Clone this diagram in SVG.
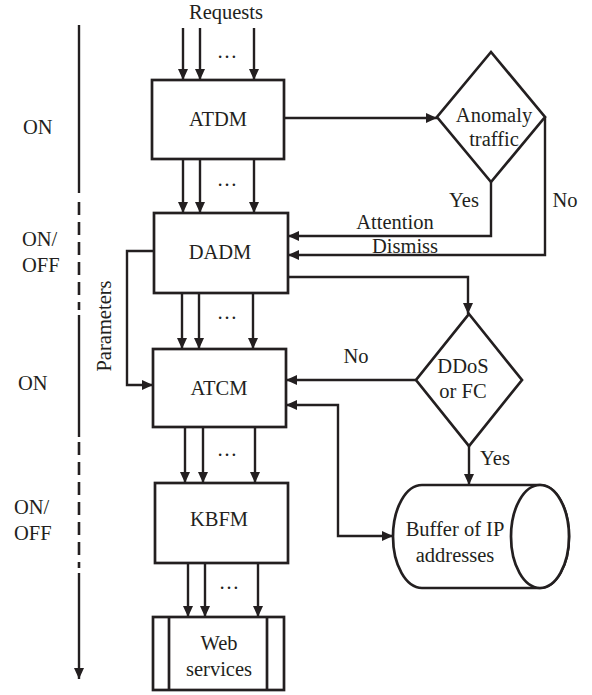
<svg xmlns="http://www.w3.org/2000/svg" width="592" height="695" viewBox="0 0 592 695" font-family="'Liberation Serif', 'DejaVu Serif', serif">
<style>
text{font-family:'Liberation Serif','DejaVu Serif',serif;font-size:20.5px;fill:#231f20}
.m{text-anchor:middle}
.box{fill:#fff;stroke:#231f20;stroke-width:2.7}
.ln{fill:none;stroke:#231f20;stroke-width:2.4}
.ar{fill:none;stroke:#231f20;stroke-width:2.4;marker-end:url(#ah)}
.dash{fill:none;stroke:#231f20;stroke-width:2.6;stroke-dasharray:13 7}
</style>
<defs>
<marker id="ah" markerUnits="userSpaceOnUse" markerWidth="11" markerHeight="10" refX="11" refY="5" orient="auto-start-reverse">
<path d="M0,0 L11,5 L0,10 z" fill="#231f20"/>
</marker>
</defs>
<rect width="592" height="695" fill="#fff"/>

<g id="timeline">
<line class="ln" x1="79" y1="25" x2="79" y2="193"/>
<line class="dash" x1="79" y1="202" x2="79" y2="310"/>
<line class="ln" x1="79" y1="315" x2="79" y2="437"/>
<line class="dash" x1="79" y1="442" x2="79" y2="568"/>
<line class="ar" x1="79" y1="573" x2="79" y2="679"/>
<text x="23" y="134">ON</text>
<text x="22" y="246">ON/</text>
<text x="22" y="272">OFF</text>
<text x="18" y="390">ON</text>
<text x="14" y="514">ON/</text>
<text x="14" y="540">OFF</text>
</g>

<g id="connectors">
<text class="m" x="226" y="19">Requests</text>
<line class="ar" x1="183" y1="28" x2="183" y2="80"/>
<line class="ar" x1="200" y1="28" x2="200" y2="80"/>
<line class="ar" x1="254" y1="28" x2="254" y2="80"/>
<text class="m" x="227" y="58">…</text>

<line class="ar" x1="183" y1="159" x2="183" y2="213"/>
<line class="ar" x1="200" y1="159" x2="200" y2="213"/>
<line class="ar" x1="254" y1="159" x2="254" y2="213"/>
<text class="m" x="227" y="186">…</text>

<line class="ar" x1="182" y1="293" x2="182" y2="349"/>
<line class="ar" x1="199" y1="293" x2="199" y2="349"/>
<line class="ar" x1="253" y1="293" x2="253" y2="349"/>
<text class="m" x="227" y="319">…</text>

<line class="ar" x1="185" y1="427" x2="185" y2="483"/>
<line class="ar" x1="203" y1="427" x2="203" y2="483"/>
<line class="ar" x1="255" y1="427" x2="255" y2="483"/>
<text class="m" x="227" y="456">…</text>

<line class="ar" x1="188" y1="563" x2="188" y2="617"/>
<line class="ar" x1="205" y1="563" x2="205" y2="617"/>
<line class="ar" x1="258" y1="563" x2="258" y2="617"/>
<text class="m" x="229" y="589">…</text>

<line class="ar" x1="284" y1="118" x2="437" y2="118"/>
<path class="ar" d="M491,182 V236 H288"/>
<text class="m" x="464" y="207">Yes</text>
<text class="m" x="395" y="229">Attention</text>
<path class="ar" d="M545,117 V255 H288"/>
<text class="m" x="565" y="207">No</text>
<text class="m" x="405" y="253">Dismiss</text>

<path class="ar" d="M288,277 H468 V314"/>
<line class="ar" x1="416" y1="380" x2="286" y2="380"/>
<text class="m" x="356" y="363">No</text>
<line class="ar" x1="469" y1="446" x2="469" y2="485"/>
<text class="m" x="495" y="465">Yes</text>

<path class="ar" d="M154,251 H127 V385 H153"/>
<text class="m" transform="translate(111,326) rotate(-90)">Parameters</text>

<path class="ln" d="M286,405 H338 V536 H393" style="marker-start:url(#ah);marker-end:url(#ah)"/>
</g>

<g id="ATDM">
<rect class="box" x="152" y="80" width="132" height="79"/>
<text class="m" x="218" y="126">ATDM</text>
</g>
<g id="DADM">
<rect class="box" x="154" y="213" width="134" height="80"/>
<text class="m" x="220" y="259">DADM</text>
</g>
<g id="ATCM">
<rect class="box" x="153" y="349" width="133" height="78"/>
<text class="m" x="219" y="395">ATCM</text>
</g>
<g id="KBFM">
<rect class="box" x="155" y="483" width="133" height="80"/>
<text class="m" x="219" y="526">KBFM</text>
</g>
<g id="WebServices">
<rect class="box" x="153" y="617" width="131" height="73"/>
<line class="ln" x1="169" y1="617" x2="169" y2="690" style="stroke-width:2.7"/>
<line class="ln" x1="267" y1="617" x2="267" y2="690" style="stroke-width:2.7"/>
<text class="m" x="219" y="650">Web</text>
<text class="m" x="219" y="676">services</text>
</g>
<g id="AnomalyTraffic">
<polygon class="box" points="491,52 545,117 491,182 437,117"/>
<text class="m" x="494" y="122">Anomaly</text>
<text class="m" x="494" y="146">traffic</text>
</g>
<g id="DDoSorFC">
<polygon class="box" points="469,314 522,380 469,446 416,380"/>
<text class="m" x="463" y="373">DDoS</text>
<text class="m" x="463" y="398">or FC</text>
</g>
<g id="Buffer">
<path class="box" d="M422,485 H540 A29,51.5 0 0 1 540,588 H422 A29,51.5 0 0 1 422,485 Z"/>
<ellipse class="box" cx="540" cy="536.5" rx="29" ry="51.5"/>
<text class="m" x="455" y="536">Buffer of IP</text>
<text class="m" x="455" y="562">addresses</text>
</g>
</svg>
